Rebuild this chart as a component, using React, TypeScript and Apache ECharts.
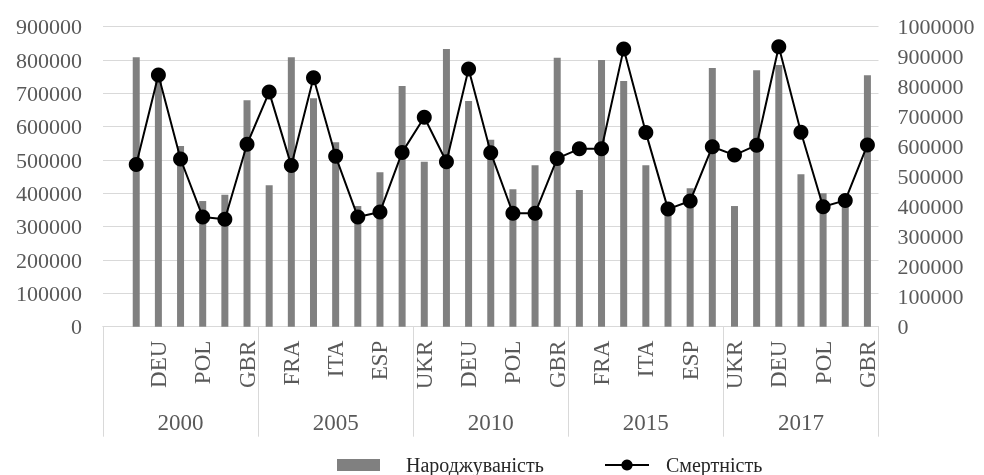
import React, { useEffect, useRef } from "react";
import * as echarts from "echarts";

const years = ["2000", "2005", "2010", "2015", "2017"];
const countries = ["UKR", "FRA", "DEU", "ITA", "POL", "ESP", "GBR"];

const births2000 = [null, 808000, 767000, 542000, 377000, 396000, 679000];
const births2005 = [424000, 808000, 685000, 553000, 362000, 463000, 722000];
const births2010 = [495000, 833000, 677000, 561000, 412000, 484000, 807000];
const births2015 = [410000, 800000, 737000, 484000, 369000, 415000, 776000];
const births2017 = [362000, 769000, 785000, 457000, 400000, 391000, 754000];

const deaths2000 = [null, 541000, 839000, 559000, 366000, 358000, 608000];
const deaths2005 = [782000, 537000, 830000, 568000, 366000, 382000, 581000];
const deaths2010 = [698000, 550000, 859000, 580000, 378000, 378000, 561000];
const deaths2015 = [593000, 593000, 926000, 647000, 392000, 419000, 600000];
const deaths2017 = [572000, 605000, 933000, 648000, 400000, 421000, 606000];

const leftTicks = { min: 0, max: 900000, interval: 100000 };
const rightTicks = { min: 0, max: 1000000, interval: 100000 };

const birthName = "Народжуваність";
const deathName = "Смертність";

export default function App() {
  const ref = useRef<HTMLDivElement>(null);
  useEffect(() => {
    document.body.style.margin = "0";
    if (!ref.current) return;
    const chart = echarts.init(ref.current, undefined, { renderer: "svg" });
    const categories: string[] = [];
    years.forEach(() => countries.forEach((c) => categories.push(c)));
    const births = [...births2000, ...births2005, ...births2010, ...births2015, ...births2017];
    const deaths = [...deaths2000, ...deaths2005, ...deaths2010, ...deaths2015, ...deaths2017];
    const font = "'Liberation Serif', 'Times New Roman', serif";
    const grey = "#595959";
    const gridColor = "#d9d9d9";
    const plain = (v: number) => String(v);
    chart.setOption({
      animation: false,
      textStyle: { fontFamily: font },
      grid: { left: 103, right: 105.5, top: 26.7, bottom: 148.3, containLabel: false },
      legend: [
        {
          data: [birthName],
          left: 332,
          top: 450,
          itemWidth: 43,
          itemHeight: 12,
          icon: "rect",
          textStyle: { fontFamily: font, fontSize: 20, color: "#262626", padding: [0, 0, 0, 21] },
        },
        {
          data: [deathName],
          left: 599,
          top: 450,
          itemWidth: 44,
          itemHeight: 14,
          textStyle: { fontFamily: font, fontSize: 20, color: "#262626", padding: [0, 0, 0, 12] },
        },
      ],
      xAxis: [
        {
          type: "category",
          data: categories,
          position: "bottom",
          axisLine: { show: true, lineStyle: { color: gridColor, width: 1 } },
          axisTick: { show: false },
          axisLabel: {
            interval: (index: number) => index > 0 && index % 2 === 0,
            rotate: 90,
            margin: 14,
            fontFamily: font,
            fontSize: 23,
            color: grey,
          },
        },
        {
          type: "category",
          data: years,
          position: "bottom",
          axisLine: { show: true, lineStyle: { color: gridColor, width: 1 } },
          axisTick: { show: true, length: 110, interval: 0, lineStyle: { color: gridColor, width: 1 } },
          axisLabel: { interval: 0, margin: 84, fontFamily: font, fontSize: 23, color: grey },
          splitLine: { show: false },
        },
      ],
      yAxis: [
        {
          type: "value",
          ...leftTicks,
          position: "left",
          axisLine: { show: false },
          axisTick: { show: false },
          splitLine: { show: true, lineStyle: { color: gridColor, width: 1 } },
          axisLabel: { margin: 21, fontFamily: font, fontSize: 22, color: grey, formatter: plain },
        },
        {
          type: "value",
          ...rightTicks,
          position: "right",
          axisLine: { show: false },
          axisTick: { show: false },
          splitLine: { show: false },
          axisLabel: { margin: 19, fontFamily: font, fontSize: 22, color: grey, formatter: plain },
        },
      ],
      series: [
        {
          name: birthName,
          type: "bar",
          xAxisIndex: 0,
          yAxisIndex: 0,
          data: births,
          barWidth: 7,
          itemStyle: { color: "#808080" },
        },
        {
          name: deathName,
          type: "line",
          xAxisIndex: 0,
          yAxisIndex: 1,
          data: deaths,
          symbol: "circle",
          symbolSize: 15,
          showAllSymbol: true,
          lineStyle: { color: "#000000", width: 2 },
          itemStyle: { color: "#000000" },
          z: 5,
        },
      ],
    });
    return () => chart.dispose();
  }, []);
  return (
    <div
      ref={ref}
      style={{ position: "fixed", left: 0, top: 0, width: 984, height: 475 }}
    />
  );
}
